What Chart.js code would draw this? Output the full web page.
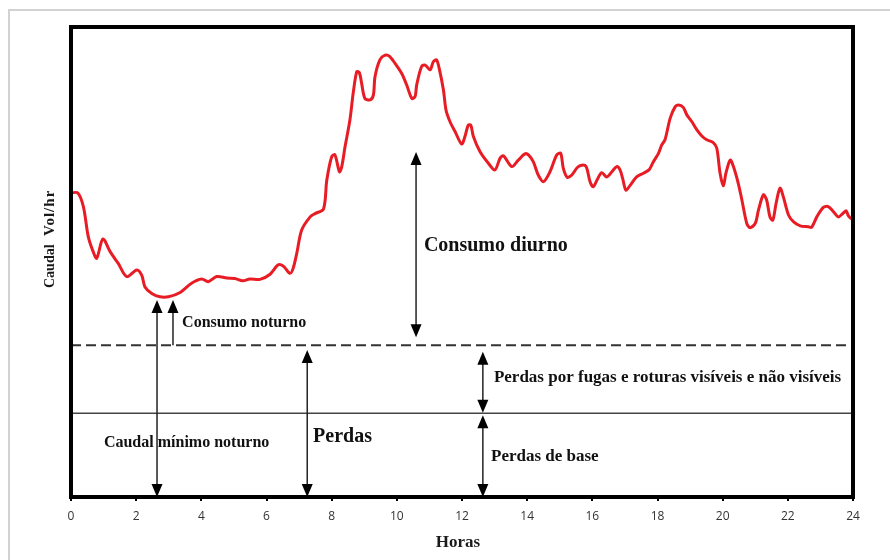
<!DOCTYPE html>
<html>
<head>
<meta charset="utf-8">
<script src="https://cdn.jsdelivr.net/npm/chart.js@4.4.0/dist/chart.umd.min.js"></script>
<style>
  html, body { margin: 0; padding: 0; background: #fff; }
</style>
</head>
<body>
<canvas id="myChart" width="890" height="560"></canvas>
<script>
// hours of the day (x) and flow (y, arbitrary Vol/hr units 0-100)
var hours = [0, 0.21, 0.38, 0.53, 0.68, 0.79, 0.98, 1.20, 1.45, 1.71, 2.02, 2.17, 2.27, 2.48, 2.73, 2.99,
  3.35, 3.70, 4.01, 4.21, 4.47, 4.78, 5.03, 5.27, 5.49, 5.80, 6.11, 6.36, 6.52, 6.72, 6.82, 6.93,
  7.08, 7.34, 7.49, 7.75, 7.85, 8.00, 8.10, 8.24, 8.31, 8.41, 8.56, 8.66, 8.77, 8.85, 8.92, 9.02,
  9.18, 9.28, 9.33, 9.48, 9.64, 9.77, 9.94, 10.15, 10.30, 10.46, 10.56, 10.61, 10.76, 10.87, 11.02,
  11.12, 11.22, 11.30, 11.43, 11.51, 11.63, 11.79, 11.99, 12.09, 12.19, 12.27, 12.35, 12.55, 12.81,
  13.01, 13.17, 13.27, 13.53, 13.73, 13.93, 14.04, 14.19, 14.34, 14.50, 14.70, 14.91, 15.03, 15.11,
  15.23, 15.37, 15.54, 15.68, 15.81, 15.93, 16.03, 16.14, 16.29, 16.44, 16.60, 16.75, 16.85, 16.93,
  17.03, 17.16, 17.36, 17.57, 17.75, 17.87, 18.03, 18.13, 18.23, 18.39, 18.54, 18.64, 18.79, 18.90,
  19.05, 19.21, 19.36, 19.51, 19.71, 19.82, 19.92, 20.02, 20.10, 20.23, 20.33, 20.48, 20.59, 20.74,
  20.84, 21.00, 21.10, 21.25, 21.35, 21.45, 21.54, 21.64, 21.76, 21.86, 22.02, 22.17, 22.38, 22.63,
  22.73, 22.89, 23.09, 23.24, 23.40, 23.55, 23.70, 23.79, 23.86, 24.00];

var flow = [64.7, 64.7, 61.8, 55.4, 52.2, 50.8, 54.9, 52.2, 49.7, 46.9, 48.3, 47.2, 44.7, 43.3, 42.6, 42.6,
  43.5, 45.5, 46.4, 45.8, 46.9, 46.6, 46.5, 46.0, 46.4, 46.3, 47.4, 49.4, 49.1, 47.6, 48.7, 51.9,
  56.8, 59.6, 60.3, 61.3, 67.4, 72.4, 72.8, 69.2, 70.3, 74.5, 80.2, 85.9, 90.5, 90.3, 88.0, 84.8,
  84.5, 85.5, 89.4, 93.0, 94.0, 93.8, 92.3, 90.1, 87.7, 84.8, 85.2, 87.7, 91.6, 91.9, 90.9,
  92.6, 93.0, 91.2, 86.6, 82.3, 79.9, 77.7, 75.1, 76.7, 79.1, 79.1, 76.7, 73.5, 71.0,
  69.6, 72.1, 72.6, 70.3, 71.7, 73.0, 72.8, 71.3, 68.5, 67.1, 69.2, 72.8, 73.1, 69.9,
  68.0, 68.5, 70.1, 70.6, 70.3, 67.1, 66.0, 67.4, 69.0, 68.1, 69.2, 70.3, 69.6, 67.8,
  65.3, 66.3, 68.1, 68.9, 69.7, 71.3, 73.1, 74.9, 76.0, 80.6, 83.0, 83.4, 82.9, 81.3,
  79.9, 78.1, 76.8, 76.0, 75.4, 74.2, 68.9, 66.2, 68.9, 71.7, 70.3, 66.7, 63.2, 58.2,
  57.3, 58.2, 61.1, 64.3, 63.2, 59.6, 58.9, 62.5, 65.7, 63.9, 60.0, 58.6, 57.7, 57.5,
  57.4, 59.6, 61.6, 61.8, 60.7, 59.6, 60.4, 60.9, 59.8, 58.9];

// levels of the two horizontal reference lines
var nightLevel = 32.3;   // dashed line
var baseLevel = 17.8;    // solid line (base losses)

// tick labels on the hour axis
var hourTicks = [0, 2, 4, 6, 8, 10, 12, 14, 16, 18, 20, 22, 24];

// arrows: hour, from value, to value, heads at top / bottom
var arrows = [
  { x: 2.64, y1: 0, y2: 41.9, top: true, bottom: true },
  { x: 3.13, y1: nightLevel, y2: 41.9, top: true, bottom: false },
  { x: 10.59, y1: 34.0, y2: 73.4, top: true, bottom: true },
  { x: 7.25, y1: 0, y2: 31.3, top: true, bottom: true },
  { x: 12.64, y1: 17.9, y2: 30.9, top: true, bottom: true },
  { x: 12.64, y1: 0, y2: 17.4, top: true, bottom: true }
];

// labels placed in data units (left edge, vertical middle)
var notes = [
  { text: 'Consumo diurno', x: 10.83, y: 53.4, size: 20 },
  { text: 'Consumo noturno', x: 3.41, y: 37.0, size: 16 },
  { text: 'Perdas', x: 7.43, y: 12.8, size: 20 },
  { text: 'Caudal mínimo noturno', x: 1.01, y: 11.5, size: 16 },
  { text: 'Perdas por fugas e roturas visíveis e não visíveis', x: 12.98, y: 25.3, size: 17 },
  { text: 'Perdas de base', x: 12.89, y: 8.5, size: 17 }
];

var serif = '"Liberation Serif", "Times New Roman", serif';

//plugin for the frame, arrows and text
var decor = {
  id: 'decor',
  beforeDraw: function (chart) {
    var c = chart.ctx;
    c.save();
    c.fillStyle = '#fff';
    c.fillRect(0, 0, chart.width, chart.height);
    c.strokeStyle = '#d2d2d2';
    c.lineWidth = 2;
    c.beginPath();
    c.moveTo(9, chart.height);
    c.lineTo(9, 10);
    c.lineTo(chart.width, 10);
    c.stroke();
    c.restore();
  },
  afterDatasetsDraw: function (chart) {
    var c = chart.ctx, a = chart.chartArea;
    var xs = chart.scales.x, ys = chart.scales.y;
    c.save();

    // arrows
    c.strokeStyle = '#222';
    c.fillStyle = '#000';
    c.lineWidth = 1.5;
    arrows.forEach(function (ar) {
      var px = xs.getPixelForValue(ar.x);
      var pBot = ys.getPixelForValue(ar.y1);
      var pTop = ys.getPixelForValue(ar.y2);
      var hl = 13, hw = 5.5;
      var lineTop = ar.top ? pTop + hl - 1 : pTop;
      var lineBot = ar.bottom ? pBot - hl + 1 : pBot;
      c.beginPath();
      c.moveTo(px, lineTop);
      c.lineTo(px, lineBot);
      c.stroke();
      if (ar.top) {
        c.beginPath();
        c.moveTo(px, pTop);
        c.lineTo(px - hw, pTop + hl);
        c.lineTo(px + hw, pTop + hl);
        c.closePath();
        c.fill();
      }
      if (ar.bottom) {
        c.beginPath();
        c.moveTo(px, pBot);
        c.lineTo(px - hw, pBot - hl);
        c.lineTo(px + hw, pBot - hl);
        c.closePath();
        c.fill();
      }
    });

    // notes
    c.fillStyle = '#111';
    c.textBaseline = 'middle';
    c.textAlign = 'left';
    notes.forEach(function (n) {
      c.font = 'bold ' + n.size + 'px ' + serif;
      c.fillText(n.text, xs.getPixelForValue(n.x), ys.getPixelForValue(n.y));
    });

    // plot frame
    c.strokeStyle = '#000';
    c.lineWidth = 4;
    c.strokeRect(a.left, a.top, a.right - a.left, a.bottom - a.top);

    // axis titles
    c.fillStyle = '#1a1a1a';
    c.textAlign = 'center';
    c.font = 'bold 17px ' + serif;
    c.fillText('Horas', 458, 543);
    c.translate(50, 236);
    c.rotate(-Math.PI / 2);
    c.textAlign = 'left';
    c.font = 'bold 14px ' + serif;
    c.fillText('Caudal', -52, 0);
    c.font = 'bold 15px ' + serif;
    c.letterSpacing = '1px';
    c.fillText('Vol/hr', 0, 0);
    c.restore();
  }
};

var ctx = document.getElementById('myChart').getContext('2d');

var myChart = new Chart(ctx, {
  type: 'line',
  data: {
    datasets: [
      {
        label: 'Caudal',
        data: hours.map(function (h, i) { return { x: h, y: flow[i] }; }),
        borderColor: 'rgb(232, 28, 36)',
        borderWidth: 3,
        pointRadius: 0,
        tension: 0.3,
        fill: false
      },
      {
        label: 'Nível noturno',
        data: [{ x: 0, y: nightLevel }, { x: 24, y: nightLevel }],
        borderColor: '#333',
        borderWidth: 2,
        borderDash: [10, 5],
        pointRadius: 0
      },
      {
        label: 'Perdas de base',
        data: [{ x: 0, y: baseLevel }, { x: 24, y: baseLevel }],
        borderColor: '#444',
        borderWidth: 1.5,
        pointRadius: 0
      }
    ]
  },
  options: {
    responsive: false,
    animation: false,
    events: [],
    layout: { padding: { left: 71, right: 37, top: 27, bottom: 0 } },
    plugins: {
      legend: { display: false },
      tooltip: { enabled: false }
    },
    scales: {
      x: {
        type: 'linear',
        min: 0,
        max: 24,
        afterFit: function (scale) { scale.height = 63; },
        afterBuildTicks: function (scale) {
          scale.ticks = hourTicks.map(function (v) { return { value: v }; });
        },
        ticks: {
          color: '#333',
          padding: 8,
          maxRotation: 0,
          font: { family: '"Open Sans", "DejaVu Sans", sans-serif', size: 12 }
        },
        grid: {
          drawOnChartArea: false,
          drawTicks: true,
          tickLength: 4,
          color: '#000',
          lineWidth: 2
        },
        border: { display: false }
      },
      y: {
        display: false,
        min: 0,
        max: 100
      }
    }
  },
  plugins: [decor]
});
</script>
</body>
</html>
